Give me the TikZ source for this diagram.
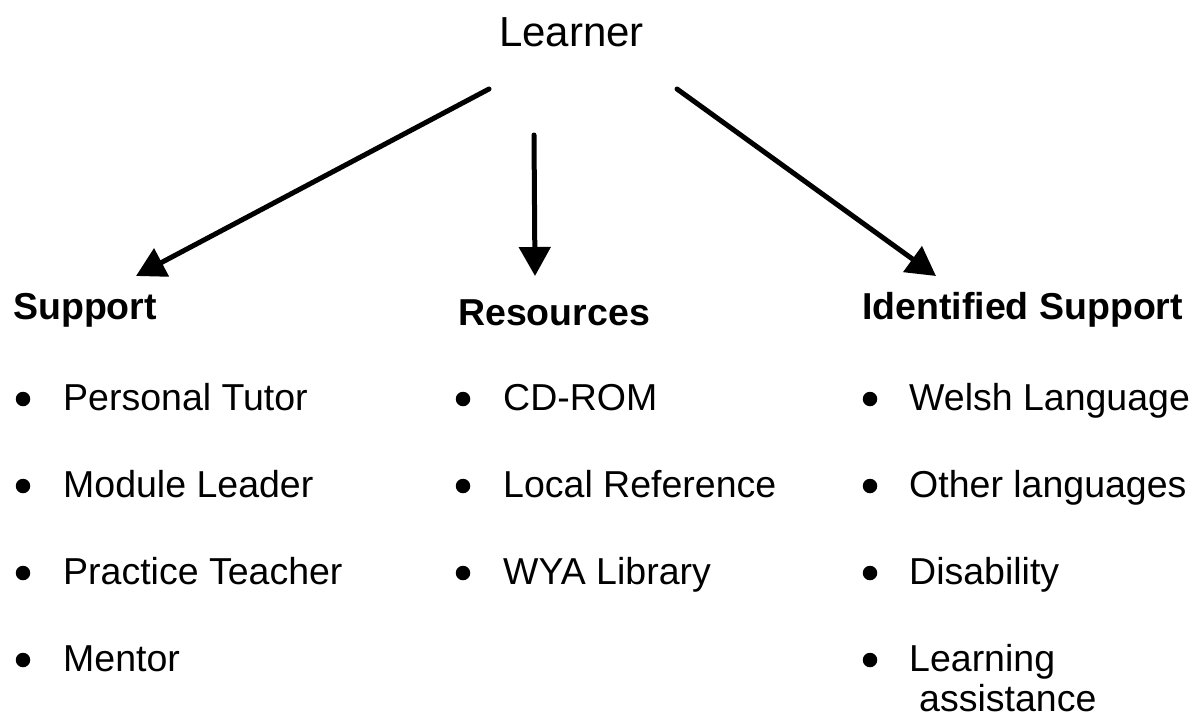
\documentclass[tikz,border=0pt]{standalone}
\usepackage{fontspec}
\setmainfont{Liberation Sans}
\usetikzlibrary{arrows.meta}
\begin{document}
\begin{tikzpicture}[x=1pt,y=-1pt,
  txt/.style={anchor=base west, inner sep=0pt, font=\fontsize{37.5}{43}\selectfont},
  head/.style={anchor=base west, inner sep=0pt, font=\fontsize{37.5}{43}\selectfont\bfseries},
  bul/.style={circle, fill=black, inner sep=0pt, minimum size=14.5pt},
  arr/.style={line width=5pt, line cap=round, -{Triangle[length=29pt,width=31pt]}}]
\useasboundingbox (0,0) rectangle (1195,718);

% title
\node[anchor=base west, inner sep=0pt, font=\fontsize{42}{48}\selectfont] (learner) at (499,46) {Learner};

% arrow ends
\coordinate (sL) at (489,89);
\coordinate (sM) at (534,135);
\coordinate (sR) at (677,89);
\coordinate (tL) at (136,276);
\coordinate (tM) at (535,276);
\coordinate (tR) at (936,276);
\draw[arr] (sL) -- (tL);
\draw[arr] (sM) -- (tM);
\draw[arr] (sR) -- (tR);

% headings
\node[head] (sup) at (13,319) {Support};
\node[head] (res) at (458,325) {Resources};
\node[head] (ids) at (862,319) {Identified Support};

% left column
\node[bul] (bl1) at (23,399) {};
\node[txt] (l1) at (63,410) {Personal Tutor};
\node[bul] (bl2) at (23,486) {};
\node[txt] (l2) at (63,497) {Module Leader};
\node[bul] (bl3) at (23,573) {};
\node[txt] (l3) at (63,584) {Practice Teacher};
\node[bul] (bl4) at (23,660) {};
\node[txt] (l4) at (63,671) {Mentor};

% middle column
\node[bul] (bm1) at (463,399) {};
\node[txt] (m1) at (503,410) {CD-ROM};
\node[bul] (bm2) at (463,486) {};
\node[txt] (m2) at (503,497) {Local Reference};
\node[bul] (bm3) at (463,573) {};
\node[txt] (m3) at (503,584) {WYA Library};

% right column
\node[bul] (br1) at (870,399) {};
\node[txt] (r1) at (909,410) {Welsh Language};
\node[bul] (br2) at (870,486) {};
\node[txt] (r2) at (909,497) {Other languages};
\node[bul] (br3) at (870,573) {};
\node[txt] (r3) at (909,584) {Disability};
\node[bul] (br4) at (870,660) {};
\node[txt] (r4) at (909,671) {Learning};
\node[txt] (r5) at (919,711) {assistance};
\end{tikzpicture}
\end{document}
